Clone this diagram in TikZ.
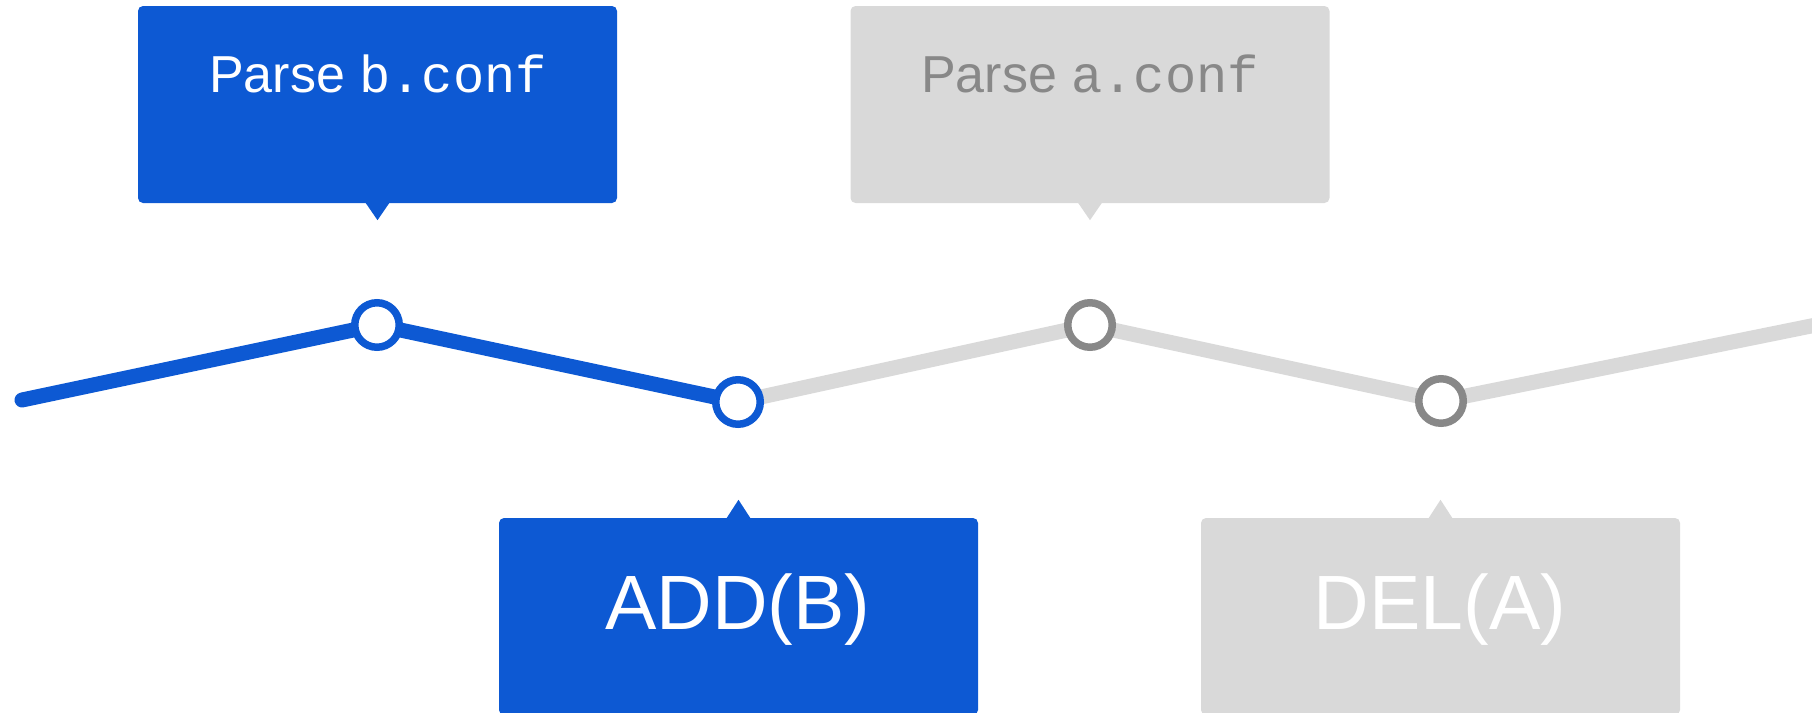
\documentclass[tikz,border=0pt]{standalone}
\usepackage{fontspec}
\setmainfont{Liberation Sans}
\newfontfamily\codefont{Liberation Mono}
\usetikzlibrary{backgrounds}
\definecolor{activeblue}{HTML}{0D59D3}
\definecolor{pendingfill}{HTML}{D9D9D9}
\definecolor{pendingink}{HTML}{888888}
\begin{document}
\begin{tikzpicture}[x=1pt,y=-1pt,
  card/.style={rounded corners=5pt, minimum width=479pt, minimum height=197pt, inner sep=0pt, draw=none},
  stop/.style={circle, minimum size=44.5pt, inner sep=0pt, line width=7.5pt, fill=white},
  track/.style={line width=15pt, line cap=round, line join=round},
  toptext/.style={anchor=base, inner sep=0pt, font=\fontsize{52}{60}\selectfont},
  optext/.style={anchor=base, inner sep=0pt, font=\fontsize{77}{90}\selectfont, text=white}]
\useasboundingbox (0,0) rectangle (1812,712);
\clip (0,0) rectangle (1812,712);

% timeline stops
\coordinate (start) at (22,400);
\node[stop, draw=activeblue] (n1) at (377,325) {};
\node[stop, draw=activeblue] (n2) at (738,402) {};
\node[stop, draw=pendingink] (n3) at (1090,325) {};
\node[stop, draw=pendingink] (n4) at (1441,401) {};
\coordinate (end) at (1816,325);

\begin{scope}[on background layer]
  \draw[track, pendingfill] (n2.center) -- (n3.center) -- (n4.center) -- (end);
  \draw[track, activeblue] (start) -- (n1.center) -- (n2.center);
\end{scope}

% callout cards above the line
\node[card, fill=activeblue] (c1) at (377.5,104.5) {};
\fill[activeblue] ([xshift=-12pt,yshift=0.5pt]c1.south) -- ([xshift=12pt,yshift=0.5pt]c1.south) -- ([yshift=-17pt]c1.south) -- cycle;
\node[toptext, text=white] (t1) at (378,92) {Parse {\codefont b.conf}};

\node[card, fill=pendingfill] (c3) at (1090,104.5) {};
\fill[pendingfill] ([xshift=-12pt,yshift=0.5pt]c3.south) -- ([xshift=12pt,yshift=0.5pt]c3.south) -- ([yshift=-17pt]c3.south) -- cycle;
\node[toptext, text=pendingink] (t3) at (1090,92) {Parse {\codefont a.conf}};

% callout cards below the line
\node[card, fill=activeblue] (c2) at (738.5,616.5) {};
\fill[activeblue] ([xshift=-12pt,yshift=-0.5pt]c2.north) -- ([xshift=12pt,yshift=-0.5pt]c2.north) -- ([yshift=18pt]c2.north) -- cycle;
\node[optext] (t2) at (738,629) {ADD(B)};

\node[card, fill=pendingfill] (c4) at (1440.5,616.5) {};
\fill[pendingfill] ([xshift=-12pt,yshift=-0.5pt]c4.north) -- ([xshift=12pt,yshift=-0.5pt]c4.north) -- ([yshift=18pt]c4.north) -- cycle;
\node[optext] (t4) at (1440,629) {DEL(A)};
\end{tikzpicture}
\end{document}
